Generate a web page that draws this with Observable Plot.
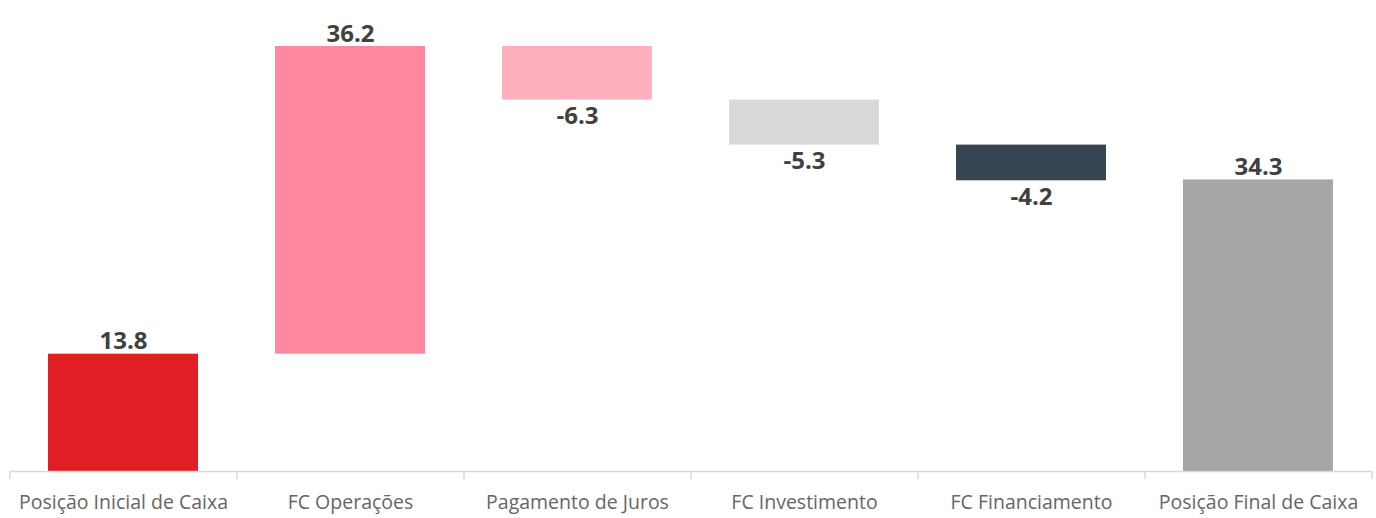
<!DOCTYPE html>
<html>
<head>
<meta charset="utf-8">
<script src="https://cdn.jsdelivr.net/npm/d3@7"></script>
<script src="https://cdn.jsdelivr.net/npm/@observablehq/plot@0.6"></script>
<style>
  html, body { margin: 0; padding: 0; background: #fff; }
  #chart svg { display: block; }
</style>
</head>
<body>
<div id="chart"></div>
<script>
const categories = ["Posição Inicial de Caixa", "FC Operações", "Pagamento de Juros", "FC Investimento", "FC Financiamento", "Posição Final de Caixa"];
const values = [13.8, 36.2, -6.3, -5.3, -4.2, 34.3];
const kinds = ["total", "delta", "delta", "delta", "delta", "total"];
const colors = ["#E01E24", "#FF889E", "#FFB0BE", "#D9D9D9", "#36454F", "#A6A6A6"];

let running = 0;
const rows = categories.map((c, i) => {
  const v = values[i];
  let a, b;
  if (kinds[i] === "total") { a = 0; b = v; running = v; }
  else { a = running; b = running + v; running = b; }
  return {cat: c, value: v, y1: Math.min(a, b), y2: Math.max(a, b), color: colors[i], label: v.toFixed(1)};
});

const W = 1376, H = 518, mL = 9, mR = 5;
const step = (W - mL - mR) / categories.length;
const ymax = d3.max(rows, d => d.y2);

const plot = Plot.plot({
  width: W,
  height: H,
  marginLeft: mL,
  marginRight: mR,
  marginTop: 46,
  marginBottom: 47,
  style: {fontFamily: "'Open Sans', sans-serif", background: "#fff"},
  x: {domain: categories, paddingInner: 0.34, paddingOuter: 0.17, axis: null},
  y: {domain: [0, ymax], axis: null},
  marks: [
    Plot.barY(rows, {x: "cat", y1: "y1", y2: "y2", fill: "color"}),
    Plot.ruleY([0], {stroke: "#D9D9D9", strokeWidth: 1.5}),
    Plot.ruleX(categories, {x: d => d, dx: -step / 2, y1: 0, y2: 0, insetBottom: -8, stroke: "#D9D9D9", strokeWidth: 1.5}),
    Plot.ruleX([categories[categories.length - 1]], {x: d => d, dx: step / 2, y1: 0, y2: 0, insetBottom: -8, stroke: "#D9D9D9", strokeWidth: 1.5}),
    Plot.text(rows.filter(d => d.value >= 0), {x: "cat", y: "y2", text: "label", lineAnchor: "bottom", dy: -5, fontSize: 24, fontWeight: "bold", fill: "#404040"}),
    Plot.text(rows.filter(d => d.value < 0), {x: "cat", y: "y1", text: "label", lineAnchor: "top", dy: 7, fontSize: 24, fontWeight: "bold", fill: "#404040"}),
    Plot.text(categories, {x: d => d, y: 0, text: d => d, lineAnchor: "top", dy: 24, fontSize: 19.5, fill: "#666666"})
  ]
});
document.getElementById("chart").appendChild(plot);
</script>
</body>
</html>
